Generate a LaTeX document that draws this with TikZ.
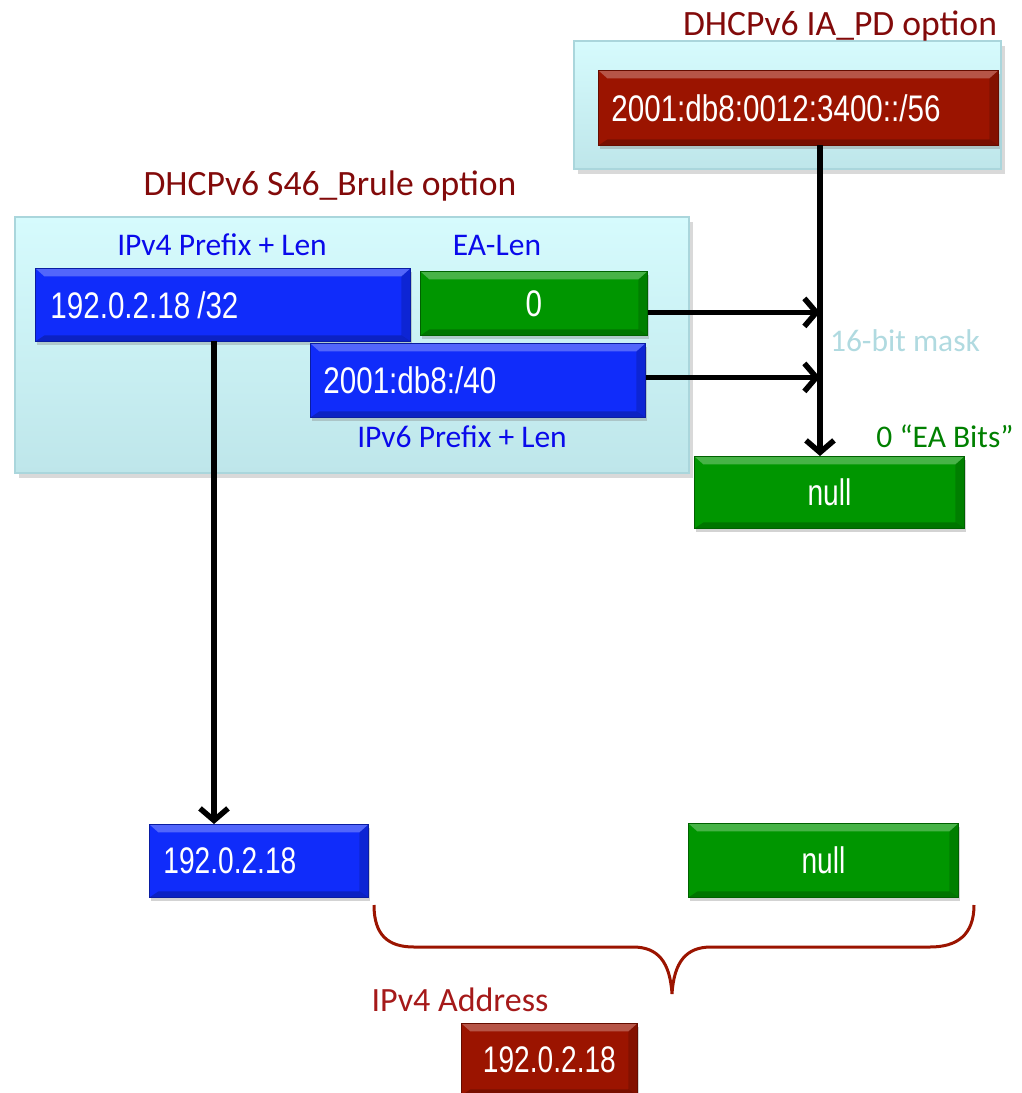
\documentclass[tikz,border=0pt]{standalone}
\usepackage{fontspec}
\setmainfont{Carlito}
\newfontfamily\boxfont[FakeStretch=0.8]{Liberation Sans}
\newfontfamily\narrowfont[FakeStretch=0.76]{Liberation Sans}
\usetikzlibrary{arrows.meta,shadows}
\definecolor{panelTop}{RGB}{214,251,253}
\definecolor{panelBot}{RGB}{190,230,234}
\definecolor{panelLine}{RGB}{170,214,220}
\definecolor{boxRed}{RGB}{155,20,0}
\definecolor{boxBlue}{RGB}{16,44,250}
\definecolor{boxGreen}{RGB}{0,150,0}
\definecolor{titleRed}{RGB}{130,10,10}
\definecolor{labelBlue}{RGB}{10,10,235}
\definecolor{maskGray}{RGB}{176,218,224}
\definecolor{eaGreen}{RGB}{0,128,0}
\definecolor{addrRed}{RGB}{165,25,25}

\begin{document}
\begin{tikzpicture}[x=1pt,y=-1pt,
    panel/.style={draw=panelLine,line width=1.5pt,top color=panelTop,bottom color=panelBot,
        inner sep=0pt,anchor=north west,
        drop shadow={shadow xshift=4pt,shadow yshift=-5pt,opacity=.3}},
    field/.style={fill=#1,draw=#1!65!black,line width=.8pt,text=white,inner ysep=0pt,
        anchor=north west,
        drop shadow={shadow xshift=2pt,shadow yshift=-4pt,opacity=.35},
        path picture={
            \fill[white,opacity=.28] (path picture bounding box.north west)
                -- (path picture bounding box.north east)
                -- ([xshift=-9pt,yshift=-8pt]path picture bounding box.north east)
                -- ([xshift=9pt,yshift=-8pt]path picture bounding box.north west) -- cycle;
            \fill[black,opacity=.22] (path picture bounding box.south west)
                -- (path picture bounding box.south east)
                -- ([xshift=-9pt,yshift=6pt]path picture bounding box.south east)
                -- ([xshift=9pt,yshift=6pt]path picture bounding box.south west) -- cycle;
            \fill[black,opacity=.15] (path picture bounding box.north east)
                -- (path picture bounding box.south east)
                -- ([xshift=-9pt,yshift=6pt]path picture bounding box.south east)
                -- ([xshift=-9pt,yshift=-8pt]path picture bounding box.north east) -- cycle;
        }},
    wide/.style={font=\boxfont\fontsize{37}{40}\selectfont},
    narrow/.style={font=\narrowfont\fontsize{37}{40}\selectfont},
    title/.style={text=titleRed,anchor=base,font=\fontsize{35.6}{40}\selectfont},
    caption/.style={text=labelBlue,anchor=base,font=\fontsize{31.5}{36}\selectfont},
    link/.style={line width=5.5pt,-{Straight Barb[length=12pt,width=28pt]}},
    brace/.style={draw=boxRed,line width=3pt}]
    \useasboundingbox (0,0) rectangle (1022,1093);

    % option panels
    \node[panel,minimum width=427pt,minimum height=128pt] (pdpanel) at (573,40) {};
    \node[panel,minimum width=674pt,minimum height=256pt] (brulepanel) at (14,216) {};
    \node[title] (pdtitle) at (840,35) {DHCPv6 IA\_PD option};
    \node[title] (bruletitle) at (330,195) {DHCPv6 S46\_Brule option};

    % fields
    \node[field=boxRed,wide,align=left,inner xsep=13pt,text width=374pt,minimum height=75pt] (pd) at (598,70) {2001:db8:0012:3400::/56};
    \node[field=boxBlue,wide,align=left,inner xsep=15pt,text width=345pt,minimum height=73pt] (v4) at (35,268) {\spaceskip=7pt\relax 192.0.2.18 /32};
    \node[field=boxGreen,wide,minimum width=227pt,minimum height=64pt] (ea) at (420,271) {0};
    \node[field=boxBlue,wide,align=left,inner xsep=13pt,text width=309pt,minimum height=74pt] (v6) at (310,343) {2001:db8:/40};
    \node[caption] (v4cap) at (222,255) {IPv4 Prefix + Len};
    \node[caption] (eacap) at (497,255) {EA-Len};
    \node[caption] (v6cap) at (462,447) {IPv6 Prefix + Len};

    \node[field=boxGreen,narrow,minimum width=270pt,minimum height=72pt] (nullA) at (694,456) {null};
    \node[text=maskGray,anchor=base,font=\fontsize{31.5}{36}\selectfont] (mask) at (905,351) {16-bit mask};
    \node[text=eaGreen,anchor=base,font=\fontsize{31.5}{36}\selectfont] (eabits) at (945,447) {0 “EA Bits”};

    \node[field=boxBlue,narrow,align=left,inner xsep=14pt,text width=191pt,minimum height=73pt] (v4out) at (149,824) {192.0.2.18};
    \node[field=boxGreen,narrow,minimum width=270pt,minimum height=74pt] (nullB) at (688,823) {null};
    \node[text=addrRed,anchor=base,font=\fontsize{34}{38}\selectfont] (addrcap) at (460,1011) {IPv4 Address};
    \node[field=boxRed,narrow,minimum width=176pt,minimum height=72pt,xshift=-2pt] (addr) at (463,1023) {192.0.2.18};

    % connectors
    \coordinate (tap) at (820,145);
    \coordinate (drop) at (214,341);
    \draw[link] (tap) -- (tap |- nullA.north);
    \draw[link] ([yshift=-9pt]ea.east) -- ([yshift=-9pt]ea.east -| tap);
    \draw[link] ([yshift=3pt]v6.east) -- ([yshift=3pt]v6.east -| tap);
    \draw[link] (drop) -- (drop |- v4out.north);

    % brace
    \draw[brace] (374,905) .. controls (374,935) and (388,947) .. (414,947) -- (633,947)
        .. controls (658,947) and (670,962) .. (672,994)
        .. controls (674,962) and (686,947) .. (711,947) -- (930,947)
        .. controls (957,947) and (974,935) .. (974,905);
\end{tikzpicture}
\end{document}
